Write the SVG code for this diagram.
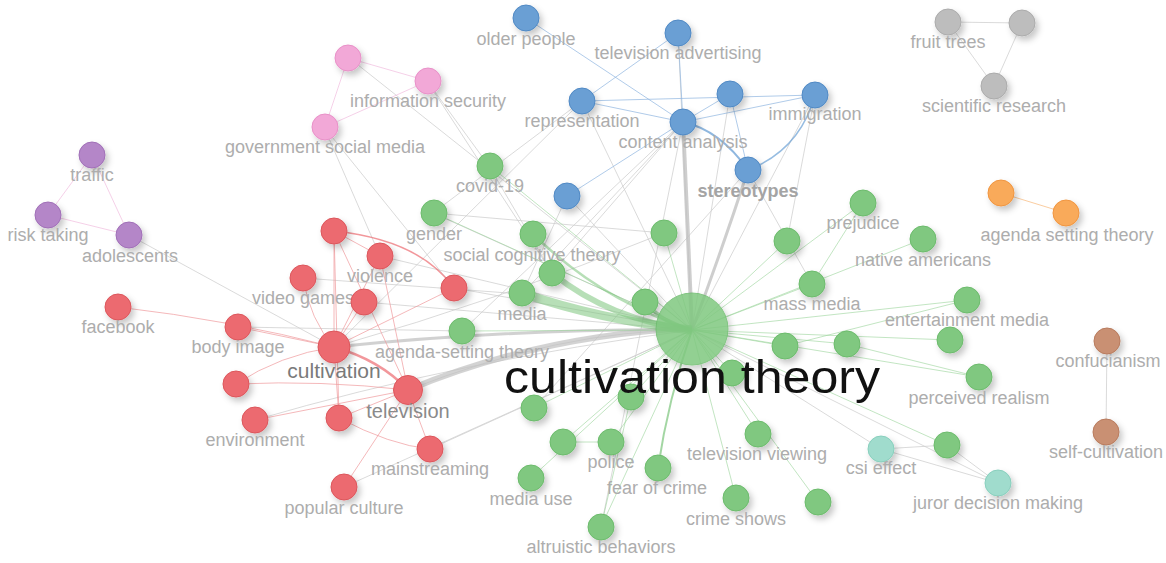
<svg xmlns="http://www.w3.org/2000/svg" width="1166" height="563" viewBox="0 0 1166 563">
<style>
.e{fill:none;stroke:#cdcdcd;stroke-width:1;opacity:.75}
.eg{fill:none;stroke:#9ad39a;stroke-width:1;opacity:.6}
.er{fill:none;stroke:#ef9a9d;stroke-width:1;opacity:.7}
.eb{fill:none;stroke:#8fb5df;stroke-width:1;opacity:.7}
.ep{fill:none;stroke:#f3c4e2;stroke-width:1;opacity:.8}
text{font-family:"Liberation Sans",Arial,sans-serif;font-size:18px;fill:#adadad;text-anchor:middle}
circle{filter:url(#sh);stroke-width:1}
.red{fill:#ec6b70;stroke:#dc555b}
.grn{fill:#80c880;stroke:#6cbb6c}
.blu{fill:#6a9fd4;stroke:#5089c4}
.pnk{fill:#f2a8d7;stroke:#e890c8}
.pur{fill:#b486c8;stroke:#a06fb7}
.gry{fill:#bdbdbd;stroke:#ababab}
.org{fill:#f9aa5a;stroke:#f09540}
.brn{fill:#c99073;stroke:#b87b5d}
.tea{fill:#a0dccd;stroke:#88cfbd}
</style>
<defs>
<filter id="sh" x="-60%" y="-60%" width="220%" height="220%">
<feDropShadow dx="3" dy="4" stdDeviation="3" flood-color="#000" flood-opacity="0.22"/>
</filter>
</defs>
<rect width="1166" height="563" fill="#fff"/>
<g id="connectors">
<!-- light gray cross edges -->
<path class="e" d="M324 127 L454 288"/>
<path class="e" d="M324 127 L380 256"/>
<path class="e" d="M427 81 L552 273"/>
<path class="e" d="M427 81 L489 166"/>
<path class="e" d="M348 57 L692 330"/>
<path class="e" d="M582 101 L433 213"/>
<path class="e" d="M582 101 L334 347"/>
<path class="e" d="M683 122 L522 294"/>
<path class="e" d="M683 122 L462 331"/>
<path class="e" d="M683 122 L552 273"/>
<path class="e" d="M567 196 L522 294"/>
<path class="e" d="M433 213 L664 233"/>
<path class="e" d="M433 213 L692 330"/>
<path class="e" d="M489 166 L552 273"/>
<path class="e" d="M129 235 L334 347"/>
<path class="e" d="M334 347 Q500 300 664 233"/>
<path class="e" d="M408 390 Q560 330 692 330"/>
<path class="e" d="M380 256 L692 330"/>
<path class="e" d="M454 288 L692 330"/>
<path class="e" d="M364 302 L692 330"/>
<path class="e" d="M303 278 L522 294"/>
<path class="e" d="M430 449 L692 330"/>
<path class="e" d="M344 487 L692 330"/>
<path class="e" d="M255 420 Q460 360 692 330"/>
<path class="e" d="M239 327 L462 331"/>
<path class="e" d="M730 94 L692 330"/>
<path class="e" d="M815 95 L692 330"/>
<path class="e" d="M815 95 L787 241"/>
<path class="e" d="M678 33 L692 330"/>
<path class="e" d="M582 101 L692 330"/>
<path class="e" d="M567 196 L692 330"/>
<path class="e" d="M881 449 L692 330"/>
<path class="e" d="M998 483 L692 330"/>
<path class="e" d="M748 170 L812 284"/>
<path class="e" d="M748 170 L534 408"/>
<path class="e" d="M683 122 L601 527"/>
<!-- thick gray -->
<path d="M683 122 L692 330" fill="none" stroke="#bdbdbd" stroke-width="4" opacity=".75"/>
<path d="M748 170 Q722 250 692 330" fill="none" stroke="#bdbdbd" stroke-width="3" opacity=".75"/>
<path d="M334 347 Q520 328 692 330" fill="none" stroke="#bdbdbd" stroke-width="3" opacity=".7"/>
<path d="M408 390 Q540 335 692 328" fill="none" stroke="#c0c0c0" stroke-width="6" opacity=".7"/>
<!-- green from center -->
<path class="eg" d="M692 330 L490 166"/>
<path class="eg" d="M692 330 L434 213"/>
<path class="eg" d="M692 330 L462 331"/>
<path class="eg" d="M692 330 L664 233"/>
<path class="eg" d="M692 330 L787 241"/>
<path class="eg" d="M692 330 L863 203"/>
<path class="eg" d="M692 330 L923 239"/>
<path class="eg" d="M692 330 L812 284"/>
<path class="eg" d="M692 330 L967 300"/>
<path class="eg" d="M692 330 L785 346"/>
<path class="eg" d="M692 330 L847 344"/>
<path class="eg" d="M692 330 L950 340"/>
<path class="eg" d="M692 330 L979 377"/>
<path class="eg" d="M692 330 L947 445"/>
<path class="eg" d="M692 330 L732 373"/>
<path class="eg" d="M692 330 L631 397"/>
<path class="eg" d="M692 330 L534 408"/>
<path class="eg" d="M692 330 L563 442"/>
<path class="eg" d="M692 330 L611 442"/>
<path class="eg" d="M692 330 L758 434"/>
<path class="eg" d="M692 330 L531 478"/>
<path class="eg" d="M692 330 L736 498"/>
<path class="eg" d="M692 330 L818 502"/>
<path class="eg" d="M692 330 L601 527"/>
<path class="eg" d="M863 203 L812 284"/>
<path class="eg" d="M967 300 L785 346"/>
<path class="eg" d="M847 344 L979 377"/>
<path class="eg" d="M611 442 L563 442"/>
<path class="eg" d="M631 397 L601 527"/>
<path d="M692 330 Q668 400 658 468" fill="none" stroke="#7cc47c" stroke-width="2" opacity=".7"/>
<!-- thick green bands -->
<path d="M522 293 Q600 320 692 330" fill="none" stroke="#7cc47c" stroke-width="9" opacity=".55"/>
<path d="M552 273 Q610 320 692 330" fill="none" stroke="#7cc47c" stroke-width="6" opacity=".55"/>
<path d="M533 234 Q600 300 692 330" fill="none" stroke="#7cc47c" stroke-width="2.5" opacity=".55"/>
<path d="M645 302 Q665 325 692 330" fill="none" stroke="#7cc47c" stroke-width="4" opacity=".6"/>
<!-- blue -->
<path class="eb" d="M526 18 L683 122"/>
<path class="eb" d="M678 33 L683 122"/>
<path class="eb" d="M582 101 L683 122"/>
<path class="eb" d="M582 101 L678 33"/>
<path class="eb" d="M582 101 L815 95"/>
<path class="eb" d="M683 122 L730 94"/>
<path class="eb" d="M683 122 L815 95"/>
<path class="eb" d="M730 94 L748 170"/>
<path class="eb" d="M567 196 L683 122"/>
<path d="M683 122 Q720 130 748 170" fill="none" stroke="#6a9fd4" stroke-width="2" opacity=".75"/>
<path d="M748 170 Q800 150 815 95" fill="none" stroke="#6a9fd4" stroke-width="1.5" opacity=".7"/>
<!-- red -->
<path d="M334 347 Q380 360 408 390" fill="none" stroke="#ec6b70" stroke-width="2.5" opacity=".7"/>
<path d="M334 231 Q420 240 454 288" fill="none" stroke="#ec6b70" stroke-width="1.5" opacity=".7"/>
<path class="er" d="M118 307 Q230 320 334 347"/>
<path class="er" d="M238 327 L334 347"/>
<path class="er" d="M236 384 Q280 355 334 347"/>
<path class="er" d="M255 420 L408 390"/>
<path class="er" d="M339 418 L334 347"/>
<path class="er" d="M334 231 L334 347"/>
<path class="er" d="M334 231 L339 418"/>
<path class="er" d="M334 231 L380 256"/>
<path class="er" d="M334 231 L408 390"/>
<path class="er" d="M303 278 Q310 320 334 347"/>
<path class="er" d="M380 256 L334 347"/>
<path class="er" d="M364 302 L334 347"/>
<path class="er" d="M380 256 L408 390"/>
<path class="er" d="M344 487 L408 390"/>
<path class="er" d="M339 418 L408 390"/>
<path class="er" d="M408 390 L430 449"/>
<path class="er" d="M339 418 Q390 445 430 449"/>
<path class="er" d="M334 347 L454 288"/>
<path class="er" d="M236 384 Q320 380 408 390"/>
<!-- pink -->
<path class="ep" d="M348 58 L428 81"/>
<path class="ep" d="M348 58 L325 127"/>
<path class="ep" d="M325 127 L428 81"/>
<!-- purple -->
<path class="ep" d="M92 155 L48 215"/>
<path class="ep" d="M92 155 L129 235"/>
<path class="ep" d="M48 215 L129 235"/>
<!-- gray cluster -->
<path class="e" d="M948 22 L1022 23"/>
<path class="e" d="M1022 23 L994 86"/>
<path class="e" d="M948 22 L994 86"/>
<!-- orange -->
<path d="M1001 193 L1066 213" fill="none" stroke="#f9c08a" stroke-width="1" opacity=".8"/>
<!-- brown -->
<path class="e" d="M1107 341 L1106 432"/>
<!-- teal -->
<path class="e" d="M881 449 L947 445"/>
<path class="e" d="M947 445 L998 483"/>
<path class="e" d="M881 449 L998 483"/>
</g>
<g id="n-older-people"><circle class="blu" cx="526" cy="18" r="13"/><text x="526" y="45">older people</text></g>
<g id="n-television-advertising"><circle class="blu" cx="678" cy="33" r="13"/><text x="678" y="59">television advertising</text></g>
<g id="n-representation"><circle class="blu" cx="582" cy="101" r="13"/><text x="582" y="127">representation</text></g>
<g id="n-content-analysis"><circle class="blu" cx="683" cy="122" r="13"/><text x="683" y="148">content analysis</text></g>
<g id="n-blue-1"><circle class="blu" cx="730" cy="94" r="13"/></g>
<g id="n-immigration"><circle class="blu" cx="815" cy="95" r="13"/><text x="815" y="120">immigration</text></g>
<g id="n-stereotypes"><circle class="blu" cx="748" cy="170" r="13"/><text x="748" y="197" style="font-weight:bold;fill:#a4a4a4">stereotypes</text></g>
<g id="n-blue-2"><circle class="blu" cx="567" cy="196" r="13"/></g>
<g id="n-pink-1"><circle class="pnk" cx="348" cy="58" r="13"/></g>
<g id="n-information-security"><circle class="pnk" cx="428" cy="81" r="13"/><text x="428" y="107">information security</text></g>
<g id="n-government-social-media"><circle class="pnk" cx="325" cy="127" r="13"/><text x="325" y="153">government social media</text></g>
<g id="n-traffic"><circle class="pur" cx="92" cy="155" r="13"/><text x="92" y="181">traffic</text></g>
<g id="n-risk-taking"><circle class="pur" cx="48" cy="215" r="13"/><text x="48" y="241">risk taking</text></g>
<g id="n-adolescents"><circle class="pur" cx="129" cy="235" r="13"/><text x="130" y="262">adolescents</text></g>
<g id="n-fruit-trees"><circle class="gry" cx="948" cy="22" r="13"/><text x="948" y="48">fruit trees</text></g>
<g id="n-gray-1"><circle class="gry" cx="1022" cy="23" r="13"/></g>
<g id="n-scientific-research"><circle class="gry" cx="994" cy="86" r="13"/><text x="994" y="112">scientific research</text></g>
<g id="n-orange-1"><circle class="org" cx="1001" cy="193" r="13"/></g>
<g id="n-agenda-setting-theory"><circle class="org" cx="1066" cy="213" r="13"/><text x="1067" y="241">agenda setting theory</text></g>
<g id="n-confucianism"><circle class="brn" cx="1107" cy="341" r="13"/><text x="1108" y="367">confucianism</text></g>
<g id="n-self-cultivation"><circle class="brn" cx="1106" cy="432" r="13"/><text x="1106" y="458">self-cultivation</text></g>
<g id="n-csi-effect"><circle class="tea" cx="881" cy="449" r="13"/><text x="881" y="474">csi effect</text></g>
<g id="n-juror-decision-making"><circle class="tea" cx="998" cy="483" r="13"/><text x="998" y="509">juror decision making</text></g>
<g id="n-facebook"><circle class="red" cx="118" cy="307" r="13"/><text x="118" y="333">facebook</text></g>
<g id="n-body-image"><circle class="red" cx="238" cy="327" r="13"/><text x="238" y="353">body image</text></g>
<g id="n-red-1"><circle class="red" cx="236" cy="384" r="13"/></g>
<g id="n-environment"><circle class="red" cx="255" cy="420" r="13"/><text x="255" y="446">environment</text></g>
<g id="n-red-2"><circle class="red" cx="339" cy="418" r="13"/></g>
<g id="n-mainstreaming"><circle class="red" cx="430" cy="449" r="13"/><text x="430" y="475">mainstreaming</text></g>
<g id="n-popular-culture"><circle class="red" cx="344" cy="487" r="13"/><text x="344" y="514">popular culture</text></g>
<g id="n-red-3"><circle class="red" cx="334" cy="231" r="13"/></g>
<g id="n-violence"><circle class="red" cx="380" cy="256" r="13"/><text x="380" y="282">violence</text></g>
<g id="n-video-games"><circle class="red" cx="303" cy="278" r="13"/><text x="303" y="304">video games</text></g>
<g id="n-red-4"><circle class="red" cx="364" cy="302" r="13"/></g>
<g id="n-red-5"><circle class="red" cx="454" cy="288" r="13"/></g>
<g id="n-covid-19"><circle class="grn" cx="490" cy="166" r="13"/><text x="490" y="192">covid-19</text></g>
<g id="n-gender"><circle class="grn" cx="434" cy="213" r="13"/><text x="434" y="240">gender</text></g>
<g id="n-social-cognitive-theory"><circle class="grn" cx="533" cy="234" r="13"/><text x="532" y="261">social cognitive theory</text></g>
<g id="n-green-1"><circle class="grn" cx="552" cy="273" r="13"/></g>
<g id="n-media"><circle class="grn" cx="522" cy="293" r="13"/><text x="522" y="320">media</text></g>
<g id="n-agenda-setting-theory-2"><circle class="grn" cx="462" cy="331" r="13"/><text x="462" y="358">agenda-setting theory</text></g>
<g id="n-green-2"><circle class="grn" cx="664" cy="233" r="13"/></g>
<g id="n-green-3"><circle class="grn" cx="645" cy="302" r="13"/></g>
<g id="n-green-4"><circle class="grn" cx="787" cy="241" r="13"/></g>
<g id="n-prejudice"><circle class="grn" cx="863" cy="203" r="13"/><text x="863" y="229">prejudice</text></g>
<g id="n-native-americans"><circle class="grn" cx="923" cy="239" r="13"/><text x="923" y="266">native americans</text></g>
<g id="n-mass-media"><circle class="grn" cx="812" cy="284" r="13"/><text x="812" y="310">mass media</text></g>
<g id="n-entertainment-media"><circle class="grn" cx="967" cy="300" r="13"/><text x="967" y="326">entertainment media</text></g>
<g id="n-green-5"><circle class="grn" cx="785" cy="346" r="13"/></g>
<g id="n-green-6"><circle class="grn" cx="847" cy="344" r="13"/></g>
<g id="n-green-7"><circle class="grn" cx="950" cy="340" r="13"/></g>
<g id="n-perceived-realism"><circle class="grn" cx="979" cy="377" r="13"/><text x="979" y="404">perceived realism</text></g>
<g id="n-green-8"><circle class="grn" cx="947" cy="445" r="13"/></g>
<g id="n-green-9"><circle class="grn" cx="732" cy="373" r="13"/></g>
<g id="n-green-10"><circle class="grn" cx="631" cy="397" r="13"/></g>
<g id="n-green-11"><circle class="grn" cx="534" cy="408" r="13"/></g>
<g id="n-green-12"><circle class="grn" cx="563" cy="442" r="13"/></g>
<g id="n-police"><circle class="grn" cx="611" cy="442" r="13"/><text x="611" y="468">police</text></g>
<g id="n-fear-of-crime"><circle class="grn" cx="658" cy="468" r="13"/><text x="657" y="494">fear of crime</text></g>
<g id="n-television-viewing"><circle class="grn" cx="758" cy="434" r="13"/><text x="757" y="460">television viewing</text></g>
<g id="n-media-use"><circle class="grn" cx="531" cy="478" r="13"/><text x="531" y="505">media use</text></g>
<g id="n-crime-shows"><circle class="grn" cx="736" cy="498" r="13"/><text x="736" y="525">crime shows</text></g>
<g id="n-green-13"><circle class="grn" cx="818" cy="502" r="13"/></g>
<g id="n-altruistic-behaviors"><circle class="grn" cx="601" cy="527" r="13"/><text x="601" y="553">altruistic behaviors</text></g>
<g id="n-cultivation"><circle class="red" cx="334" cy="347" r="16"/><text x="334" y="378" style="font-size:21px;fill:#7a7a7a">cultivation</text></g>
<g id="n-television"><circle class="red" cx="408" cy="390" r="14.5"/><text x="408" y="418" style="font-size:20px;fill:#8a8a8a">television</text></g>
<g id="n-cultivation-theory"><circle class="grn" cx="692" cy="329" r="36" style="opacity:.85"/><text x="692" y="393" style="font-size:46px;fill:#111" textLength="376" lengthAdjust="spacingAndGlyphs">cultivation theory</text></g>
</svg>
